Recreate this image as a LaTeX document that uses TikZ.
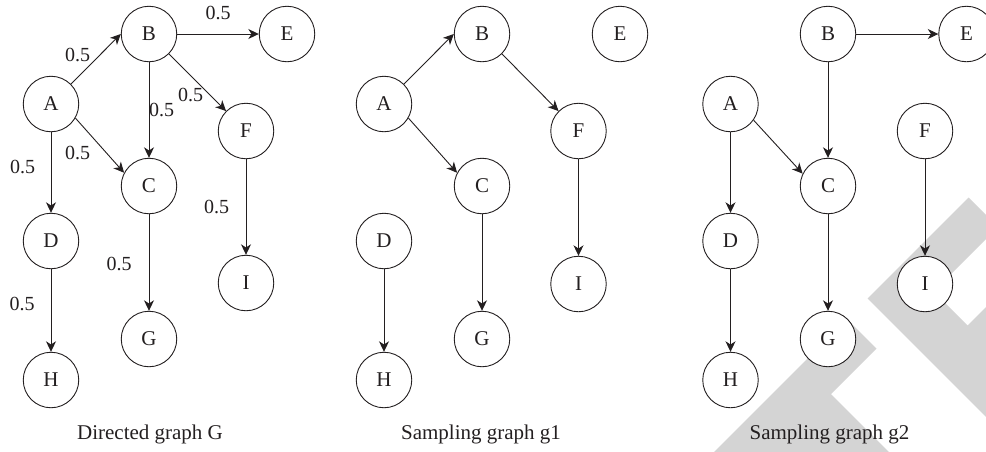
\documentclass[tikz,border=0pt]{standalone}
\usepackage{fontspec}
\setmainfont{Liberation Serif}
\usetikzlibrary{arrows.meta}
\definecolor{ink}{RGB}{35,31,32}
\definecolor{wm}{RGB}{212,212,212}
\begin{document}
\begin{tikzpicture}[x=1pt,y=-1pt,
  vtx/.style={circle,draw=ink,line width=0.9pt,fill=white,minimum size=55.5pt,inner sep=0pt,font=\fontsize{21}{24}\selectfont,text=ink},
  arr/.style={-{Stealth[length=10.5pt,width=10pt,inset=3.2pt]},draw=ink,line width=0.9pt},
  wt/.style={font=\fontsize{20}{23}\selectfont,text=ink,inner sep=0pt},
  capt/.style={font=\fontsize{21}{24}\selectfont,text=ink,anchor=base,inner sep=0pt}]
\useasboundingbox (0,0) rectangle (986,451);
\clip (0,0) rectangle (986,451);
% watermark
\fill[wm] (847,319) -- (876.5,348.5) -- (831,394) -- (900,463) -- (703,463) -- cycle;
\fill[wm] (968.5,197.5) -- (998,227) -- (933.5,291.5) -- (967.5,325.5) -- (1050,243) -- (1050,481) -- (867.5,298.5) -- cycle;
% ---------- Directed graph G ----------
\node[vtx] (gA) at (51,104) {A};
\node[vtx] (gB) at (149,34) {B};
\node[vtx] (gE) at (287,34) {E};
\node[vtx] (gF) at (246,131) {F};
\node[vtx] (gC) at (149,186) {C};
\node[vtx] (gD) at (51,241) {D};
\node[vtx] (gG) at (149,339) {G};
\node[vtx] (gH) at (51,380) {H};
\node[vtx] (gI) at (246,283) {I};
\draw[arr] (gA.45) -- (gB.west);
\draw[arr] (gA.-30) -- (gC.152);
\draw[arr] (gA.south) -- (gD.north);
\draw[arr] (gB.south) -- (gC.north);
\draw[arr] (gB.east) -- (gE.west);
\draw[arr] (gB.-45) -- (gF.135);
\draw[arr] (gC.south) -- (gG.north);
\draw[arr] (gF.south) -- (gI.north);
\draw[arr] (gD.south) -- (gH.north);
\node[wt] (lAB) at (77.5,55) {0.5};
\node[wt] (lBE) at (218,13) {0.5};
\node[wt] (lBF) at (190.5,95) {0.5};
\node[wt] (lBC) at (161.5,110) {0.5};
\node[wt] (lAC) at (77.5,153) {0.5};
\node[wt] (lAD) at (22.5,167) {0.5};
\node[wt] (lFI) at (216.5,207) {0.5};
\node[wt] (lCG) at (119,264) {0.5};
\node[wt] (lDH) at (22,304) {0.5};
\node[capt] (capG) at (150,439) {Directed graph G};
% ---------- Sampling graph g1 ----------
\node[vtx] (aA) at (384,104) {A};
\node[vtx] (aB) at (482,34) {B};
\node[vtx] (aE) at (620,34) {E};
\node[vtx] (aF) at (578.5,131) {F};
\node[vtx] (aC) at (482,186) {C};
\node[vtx] (aD) at (384,241) {D};
\node[vtx] (aG) at (482,339) {G};
\node[vtx] (aH) at (384,380) {H};
\node[vtx] (aI) at (578.5,284) {I};
\draw[arr] (aA.45) -- (aB.west);
\draw[arr] (aA.-30) -- (aC.152);
\draw[arr] (aB.-45) -- (aF.135);
\draw[arr] (aC.south) -- (aG.north);
\draw[arr] (aF.south) -- (aI.north);
\draw[arr] (aD.south) -- (aH.north);
\node[capt] (cap1) at (481,439.5) {Sampling graph g1};
% ---------- Sampling graph g2 ----------
\node[vtx] (bA) at (730.5,104) {A};
\node[vtx] (bB) at (828,34) {B};
\node[vtx] (bE) at (966.5,34) {E};
\node[vtx] (bF) at (925,131) {F};
\node[vtx] (bC) at (828,186) {C};
\node[vtx] (bD) at (730.5,241) {D};
\node[vtx] (bG) at (828,339) {G};
\node[vtx] (bH) at (730.5,380) {H};
\node[vtx] (bI) at (925,284) {I};
\draw[arr] (bB.east) -- (bE.west);
\draw[arr] (bB.south) -- (bC.north);
\draw[arr] (bA.-35) -- (bC.154);
\draw[arr] (bA.south) -- (bD.north);
\draw[arr] (bC.south) -- (bG.north);
\draw[arr] (bF.south) -- (bI.north);
\draw[arr] (bD.south) -- (bH.north);
\node[capt] (cap2) at (829.5,439.5) {Sampling graph g2};
\end{tikzpicture}
\end{document}
